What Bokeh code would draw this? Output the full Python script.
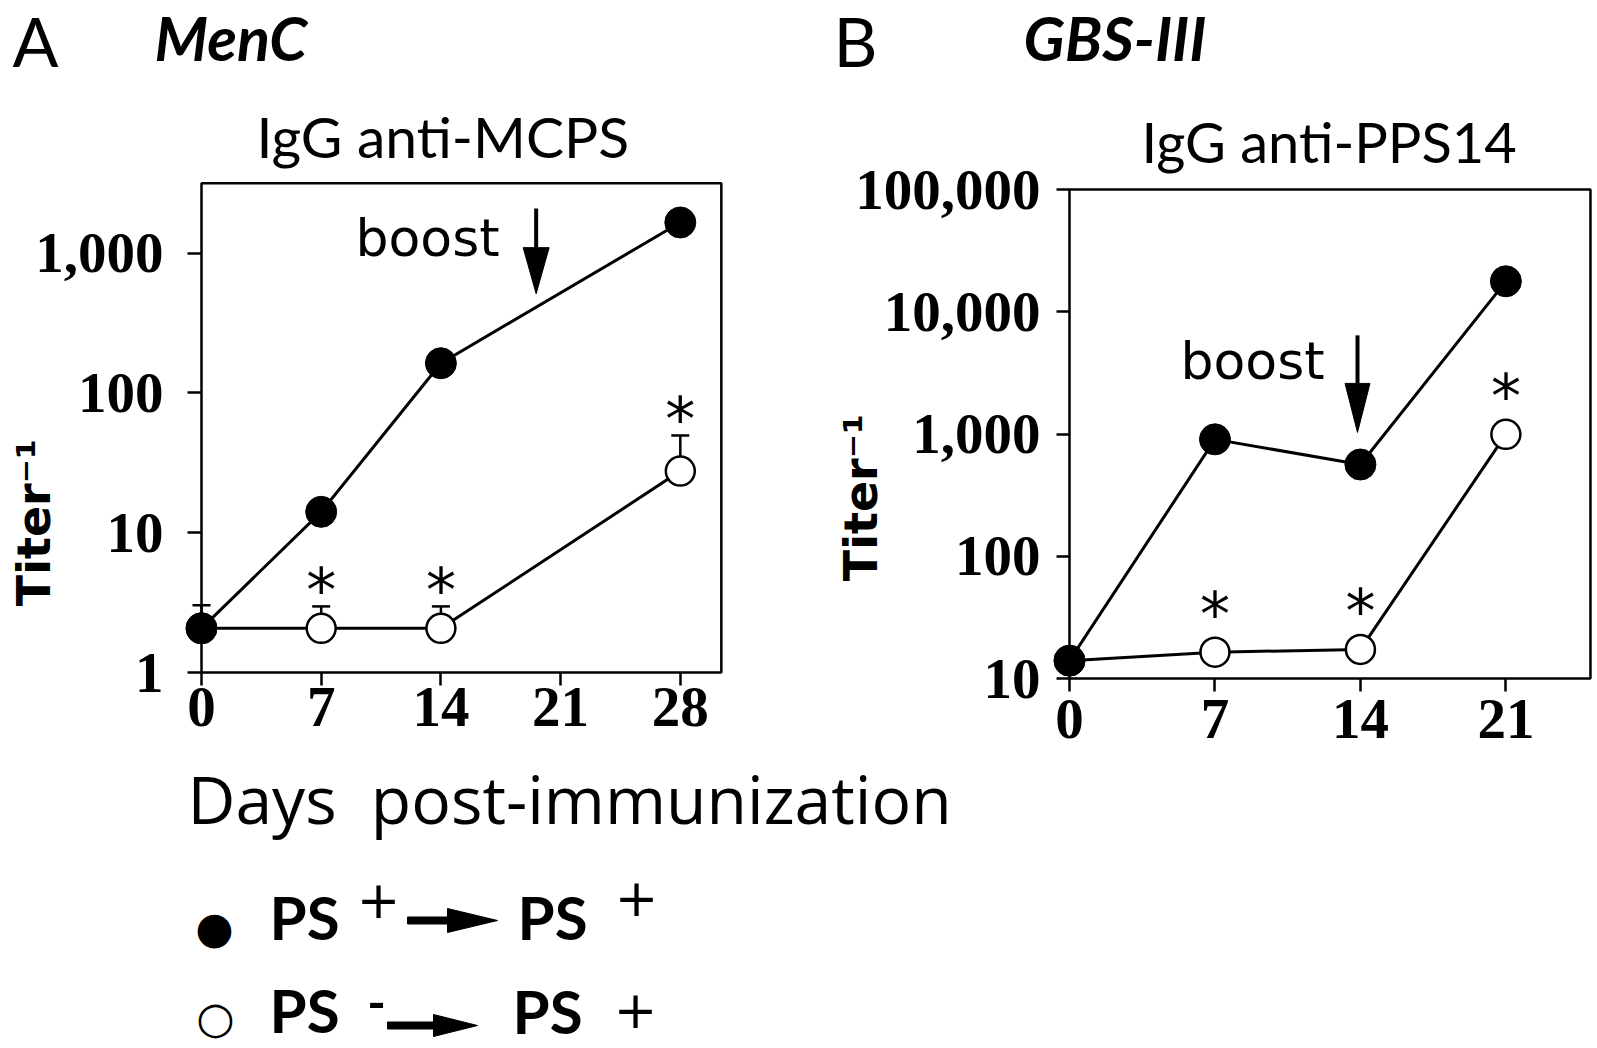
import math
from bokeh.plotting import figure
from bokeh.layouts import row, column
from bokeh.models import (Range1d, FixedTicker, NumeralTickFormatter, Label, PolyAnnotation,
                          BoxAnnotation, Whisker, TeeHead, ColumnDataSource)
from bokeh.core.properties import value
from bokeh.embed import file_html
from bokeh.resources import INLINE

# ---------------- data ----------------
days_A = [0, 7, 14, 28]
menc_pos = [2.07, 14.1, 163, 1656]          # PS+ -> PS+
menc_neg = [2.07, 2.07, 2.07, 27.6]         # PS- -> PS+
menc_pos_err = [3.03, None, None, None]     # upper SE
menc_neg_err = [None, 2.97, 2.97, 49.6]
menc_sig = [False, True, True, True]

days_B = [0, 7, 14, 21]
gbs_pos = [14.0, 904, 563, 17740]
gbs_neg = [14.0, 16.4, 17.3, 993]
gbs_neg_err = [None, None, None, None]
gbs_sig = [False, True, True, True]

xticks_A = [0, 7, 14, 21, 28]
xticks_B = [0, 7, 14, 21]
yticks_A = [1, 10, 100, 1000]
yticks_B = [10, 100, 1000, 10000, 100000]

xlim_A = (0, 30.4)
ylim_A = (1, 3162)
xlim_B = (0, 25.07)
ylim_B = (10, 100000)

boost_A = 19.57
boost_B = 13.86

TICK_FONT = "Liberation Serif"
ROW_H = 752          # height of the two chart canvases
LEG_H = 295          # height of the caption / legend strip
W_A, W_B = 796, 798


def make_panel(canvas_left, canvas_w, box_left_px, px_per_day, box_bottom_px, px_per_decade,
               xlim, ylim, yticks, xticks, ytick_len, y_standoff, x_standoff):
    x0 = xlim[0] - (box_left_px - canvas_left) / px_per_day
    x1 = xlim[0] + (canvas_left + canvas_w - box_left_px) / px_per_day
    ly = math.log10(ylim[0])
    y0 = 10 ** (ly - (ROW_H - box_bottom_px) / px_per_decade)
    y1 = 10 ** (ly + box_bottom_px / px_per_decade)
    p = figure(width=canvas_w, height=ROW_H, x_range=Range1d(x0, x1),
               y_range=Range1d(y0, y1), y_axis_type="log", output_backend="svg",
               toolbar_location=None, min_border=0)
    p.outline_line_color = None
    p.grid.visible = False
    p.xaxis.ticker = FixedTicker(ticks=xticks)
    p.yaxis.ticker = FixedTicker(ticks=yticks)
    p.yaxis.formatter = NumeralTickFormatter(format="0,0")
    for ax in (p.xaxis, p.yaxis):
        ax.axis_line_color = None
        ax.minor_tick_line_color = None
        ax.major_tick_line_color = "black"
        ax.major_tick_line_width = 2.5
        ax.major_tick_in = 0
        ax.major_label_text_font = TICK_FONT
        ax.major_label_text_font_style = "bold"
        ax.major_label_text_font_size = "57px"
        ax.major_label_text_color = "black"
    p.xaxis.fixed_location = ylim[0]
    p.yaxis.fixed_location = xlim[0]
    p.xaxis.major_tick_out = 13
    p.xaxis.major_label_standoff = x_standoff
    p.yaxis.major_tick_out = ytick_len
    p.yaxis.major_label_standoff = y_standoff
    p.add_layout(BoxAnnotation(left=xlim[0], right=xlim[1], bottom=ylim[0], top=ylim[1],
                               fill_color=None, fill_alpha=0, line_color="black",
                               line_alpha=1, line_width=2.5))
    return p


def add_series(p, days, pos, neg, neg_err, sig, pos_err=None, star_off=(-16, -38)):
    for vals, errs in ((pos, pos_err), (neg, neg_err)):
        if errs is None:
            continue
        xs = [d for d, e in zip(days, errs) if e is not None]
        lo = [v for v, e in zip(vals, errs) if e is not None]
        hi = [e for e in errs if e is not None]
        if xs:
            src = ColumnDataSource(dict(x=xs, lower=lo, upper=hi))
            w = Whisker(source=src, base="x", lower="lower", upper="upper",
                        line_color="black", line_width=2.5, lower_head=None,
                        upper_head=TeeHead(size=18, line_width=2.5, line_color="black"),
                        level="underlay")
            p.add_layout(w)
    p.line(days, neg, line_color="black", line_width=3)
    p.scatter(days, neg, size=29, marker="circle", fill_color="white",
              line_color="black", line_width=2.5)
    p.line(days, pos, line_color="black", line_width=3)
    p.scatter(days, pos, size=31, marker="circle", fill_color="black",
              line_color="black")
    ax, ay, aoff = [], [], []
    for d, v, e, s in zip(days, neg, neg_err, sig):
        if s:
            ax.append(d)
            ay.append(e if e is not None else v)
            aoff.append(star_off[0] if e is not None else star_off[1])
    p.text(ax, ay, text=["*"] * len(ax), y_offset=aoff, text_align="center",
           text_baseline="alphabetic", text_font=value("DejaVu Sans"),
           text_font_size="60px", text_color="black")


def boost_arrow(p, x, top, head_top, tip, half_w):
    p.segment(x0=[x], y0=[top], x1=[x], y1=[head_top], line_color="black", line_width=4)
    p.add_layout(PolyAnnotation(xs=[x - half_w, x + half_w, x], ys=[head_top, head_top, tip],
                                fill_color="black", fill_alpha=1, line_color="black",
                                line_alpha=1, line_width=1))


def lab(p, FL, FB, X, Y, text, size, font="Lato", style="normal", align="left",
        baseline="alphabetic", angle=0.0):
    # (X, Y): page position of the anchor; Y is the baseline for alphabetic texts
    k = 0.36 if font.startswith("DejaVu") else 0.39
    yy = Y - k * size if baseline == "alphabetic" else Y
    p.add_layout(Label(x=X - FL, y=FB - yy, x_units="screen", y_units="screen", text=text,
                       text_font=font, text_font_size=f"{size}px", text_font_style=style,
                       text_align=align, text_baseline=baseline, angle=angle,
                       text_color="black"))


def poly_screen(p, FL, FB, pts):
    p.add_layout(PolyAnnotation(xs=[X - FL for X, Y in pts], ys=[FB - Y for X, Y in pts],
                                xs_units="screen", ys_units="screen", fill_color="black",
                                fill_alpha=1, line_color="black", line_alpha=1, line_width=1))


# ---------------- Panel A ----------------
LA = 0
pA = make_panel(LA, W_A, 201, 17.1, 672, 139.8, xlim_A, ylim_A, yticks_A, xticks_A,
                ytick_len=14, y_standoff=24, x_standoff=2)
add_series(pA, days_A, menc_pos, menc_neg, menc_neg_err, menc_sig, pos_err=menc_pos_err)
boost_arrow(pA, boost_A, 2084, 1094, 512, 0.76)

lab(pA, LA, ROW_H, 12, 67, "A", 68)
lab(pA, LA, ROW_H, 154, 61, "MenC", 61, style="bold italic")
lab(pA, LA, ROW_H, 256, 158, "IgG anti-MCPS", 57)
lab(pA, LA, ROW_H, 355, 256, "boost", 52, font="DejaVu Sans")
lab(pA, LA, ROW_H, 33, 522, "Titer\u207b\u00b9", 46, font="DejaVu Sans", style="bold",
    align="center", baseline="middle", angle=math.pi / 2)

# ---------------- Panel B ----------------
LB = W_A
pB = make_panel(LB, W_B, 1069, 20.78, 678, 122.25, xlim_B, ylim_B, yticks_B, xticks_B,
                ytick_len=13, y_standoff=16, x_standoff=8)
add_series(pB, days_B, gbs_pos, gbs_neg, gbs_neg_err, gbs_sig)
boost_arrow(pB, boost_B, 6412, 2594, 1030, 0.6)

lab(pB, LB, ROW_H, 833, 67, "B", 68)
lab(pB, LB, ROW_H, 1023, 61, "GBS-III", 61, style="bold italic")
lab(pB, LB, ROW_H, 1141, 163, "IgG anti-PPS14", 56)
lab(pB, LB, ROW_H, 1180, 379, "boost", 52, font="DejaVu Sans")
lab(pB, LB, ROW_H, 860, 497, "Titer\u207b\u00b9", 46, font="DejaVu Sans", style="bold",
    align="center", baseline="middle", angle=math.pi / 2)

# ---------------- caption + legend strip ----------------
pL = figure(width=W_A + W_B, height=LEG_H, x_range=Range1d(0, 1), y_range=Range1d(0, 1),
            x_axis_location=None, y_axis_location=None, output_backend="svg",
            toolbar_location=None, min_border=0)
pL.outline_line_color = None
pL.grid.visible = False
FBL = ROW_H + LEG_H

lab(pL, 0, FBL, 187, 823, "Days\u00a0 post-immunization", 66, font="Open Sans")

lab(pL, 0, FBL, 214, 927, "\u25cf", 44, font="DejaVu Sans", align="center", baseline="middle")
lab(pL, 0, FBL, 269, 940, "PS", 60, style="bold")
lab(pL, 0, FBL, 378, 898, "+", 52, font="DejaVu Sans", align="center", baseline="middle")
poly_screen(pL, 0, FBL, [(407, 916.5), (450, 916.5), (450, 923.5), (407, 923.5)])
poly_screen(pL, 0, FBL, [(447, 908), (497, 920), (447, 932)])
lab(pL, 0, FBL, 517, 940, "PS", 60, style="bold")
lab(pL, 0, FBL, 636, 896, "+", 52, font="DejaVu Sans", align="center", baseline="middle")

lab(pL, 0, FBL, 215, 1017, "\u25cb", 44, font="DejaVu Sans", align="center", baseline="middle")
lab(pL, 0, FBL, 269, 1033, "PS", 60, style="bold")
lab(pL, 0, FBL, 376, 1002, "-", 50, style="bold", align="center", baseline="middle")
poly_screen(pL, 0, FBL, [(387, 1021.5), (440, 1021.5), (440, 1028.5), (387, 1028.5)])
poly_screen(pL, 0, FBL, [(433, 1014), (477, 1025), (433, 1036)])
lab(pL, 0, FBL, 512, 1034, "PS", 60, style="bold")
lab(pL, 0, FBL, 635, 1008, "+", 52, font="DejaVu Sans", align="center", baseline="middle")

layout = column(row(pA, pB), pL)
open("out.html", "w").write(file_html(layout, INLINE))
